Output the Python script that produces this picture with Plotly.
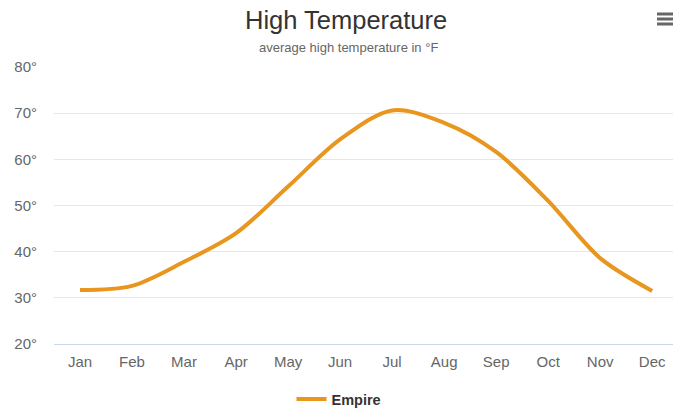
import plotly.graph_objects as go

months = ["Jan", "Feb", "Mar", "Apr", "May", "Jun", "Jul", "Aug", "Sep", "Oct", "Nov", "Dec"]
empire = [31.7, 32.6, 37.8, 44.0, 54.1, 64.3, 70.6, 67.9, 61.6, 51.0, 38.6, 31.5]
y_ticks = [20, 30, 40, 50, 60, 70, 80]
y_labels = [f"{v}°" for v in y_ticks]

W, H = 673, 410
L, T, B = 54, 67, 66
PW, PH = W - L, H - T - B


def px_x(px):
    return (px - L) / PW


def px_y(py):
    return (H - B - py) / PH


fig = go.Figure()
fig.add_trace(go.Scatter(
    x=list(range(len(months))), y=empire, name="Empire", mode="lines",
    line=dict(color="#E8961E", width=4, shape="spline", smoothing=0.9),
    hoverinfo="x+y",
))

fig.update_layout(
    width=W, height=H,
    margin=dict(l=L, r=0, t=T, b=B),
    paper_bgcolor="white", plot_bgcolor="white",
    font=dict(family="Liberation Sans, Arial, sans-serif", color="#666666"),
    showlegend=True,
    legend=dict(orientation="h", x=339 / W, xanchor="center", xref="container",
                y=(H - 399) / H, yanchor="middle", yref="container",
                font=dict(size=14.5, color="#333333", weight="bold",
                          family="Liberation Sans, Arial, sans-serif"),
                itemwidth=30),
    xaxis=dict(
        range=[-0.5, 11.4], tickmode="array", tickvals=list(range(len(months))),
        ticktext=months, showgrid=False, zeroline=False,
        showline=True, linecolor="#ccd6eb", linewidth=1,
        tickfont=dict(size=15, color="#666666"), ticks="", ticklabelstandoff=4,
        fixedrange=True,
    ),
    yaxis=dict(
        range=[20, 80], tickmode="array", tickvals=y_ticks, ticktext=y_labels,
        showgrid=True, gridcolor="#e6e6e6", gridwidth=1, zeroline=False,
        tickfont=dict(size=15, color="#666666"), ticks="", ticklabelstandoff=16,
        fixedrange=True,
    ),
    annotations=[
        dict(text="High Temperature", x=px_x(345.5), y=px_y(20), xref="paper", yref="paper",
             xanchor="center", yanchor="middle", showarrow=False,
             font=dict(size=25.5, color="#333333")),
        dict(text="average high temperature in °F", x=px_x(348), y=px_y(48),
             xref="paper", yref="paper", xanchor="center", yanchor="middle",
             showarrow=False, font=dict(size=13, color="#666666")),
    ],
)

# hamburger menu icon
for yy in (14, 19, 24):
    fig.add_shape(type="line", xref="paper", yref="paper",
                  x0=px_x(657), x1=px_x(673), y0=px_y(yy), y1=px_y(yy),
                  line=dict(color="#666666", width=3))

fig.write_html("out.html", config={"displayModeBar": False},
               post_script="document.body.style.margin='0';document.body.style.padding='0';")
